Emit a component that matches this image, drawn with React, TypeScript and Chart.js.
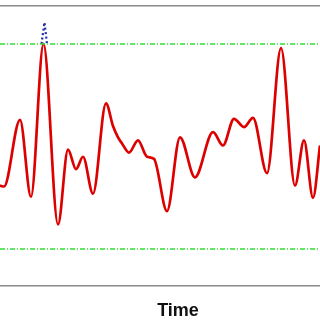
import React, { useEffect, useRef } from "react";
import { Chart, registerables } from "chart.js";

Chart.register(...registerables);

// Time samples (x) and signal amplitude (y)
const timePoints = [0, 4, 20, 31, 43.5, 58, 68, 76, 83, 93, 106, 113, 118, 122, 129, 138, 147, 154, 167, 180, 195, 213, 223, 234, 244, 253, 267, 281, 295, 304, 313, 320];
const signalValues = [-0.38, -0.39, 0.26, -0.49, 1.0, -0.76, -0.03, -0.22, -0.1, -0.46, 0.42, 0.2, 0.09, 0.03, -0.06, 0.06, -0.1, -0.12, -0.63, 0.09, -0.3, 0.14, 0.01, 0.27, 0.19, 0.28, -0.26, 0.96, -0.38, 0.06, -0.5, 0.01];

// Part of the peak exceeding the threshold (dotted)
const exceedTime = [41.5, 44.5, 47];
const exceedValues = [1.0, 1.21, 1.0];

// Threshold lines
const thresholdTime = [0, 320];
const upperThreshold = [1.0, 1.0];
const lowerThreshold = [-1.0, -1.0];

const xMin = 0;
const xMax = 320;
const yMin = -1.36;
const yMax = 1.37;

const toPoints = (xs: number[], ys: number[]) => xs.map((x, i) => ({ x, y: ys[i] }));

export default function App() {
  const ref = useRef<HTMLCanvasElement | null>(null);

  useEffect(() => {
    if (!ref.current) return;
    const chart = new Chart(ref.current, {
      type: "line",
      data: {
        datasets: [
          {
            data: toPoints(thresholdTime, upperThreshold),
            borderColor: "#33e033",
            borderWidth: 1.5,
            borderDash: [5, 2, 1, 2],
            pointRadius: 0,
          },
          {
            data: toPoints(thresholdTime, lowerThreshold),
            borderColor: "#33e033",
            borderWidth: 1.5,
            borderDash: [5, 2, 1, 2],
            pointRadius: 0,
          },
          {
            data: toPoints(exceedTime, exceedValues),
            borderColor: "#1f2fb0",
            borderWidth: 2.2,
            borderDash: [2, 2.5],
            pointRadius: 0,
          },
          {
            data: toPoints(timePoints, signalValues),
            borderColor: "#dd0000",
            borderWidth: 2.7,
            cubicInterpolationMode: "monotone",
            pointRadius: 0,
          },
        ],
      },
      options: {
        animation: false,
        responsive: false,
        layout: { padding: { top: 6, bottom: 34, left: 0, right: 0 } },
        plugins: { legend: { display: false }, tooltip: { enabled: false } },
        scales: {
          x: {
            type: "linear",
            min: xMin,
            max: xMax,
            position: "bottom",
            grid: { display: false, drawTicks: false },
            ticks: { display: false },
            border: { display: true, color: "#8a8a8a", width: 1.5 },
          },
          x2: {
            type: "linear",
            min: xMin,
            max: xMax,
            position: "top",
            grid: { display: false, drawTicks: false },
            ticks: { display: false },
            border: { display: true, color: "#8a8a8a", width: 1.5 },
          },
          y: {
            min: yMin,
            max: yMax,
            display: false,
          },
        },
      },
    });
    return () => chart.destroy();
  }, []);

  return (
    <div style={{ position: "absolute", left: 0, top: 0, width: 320, height: 320, background: "#fff" }}>
      <canvas ref={ref} width={320} height={320} style={{ display: "block" }} />
      <div
        style={{
          position: "absolute",
          left: 128,
          top: 301,
          width: 100,
          textAlign: "center",
          font: "bold 18px 'Liberation Sans', Arial, sans-serif",
          lineHeight: "18px",
          color: "#111",
        }}
      >
        Time
      </div>
    </div>
  );
}
